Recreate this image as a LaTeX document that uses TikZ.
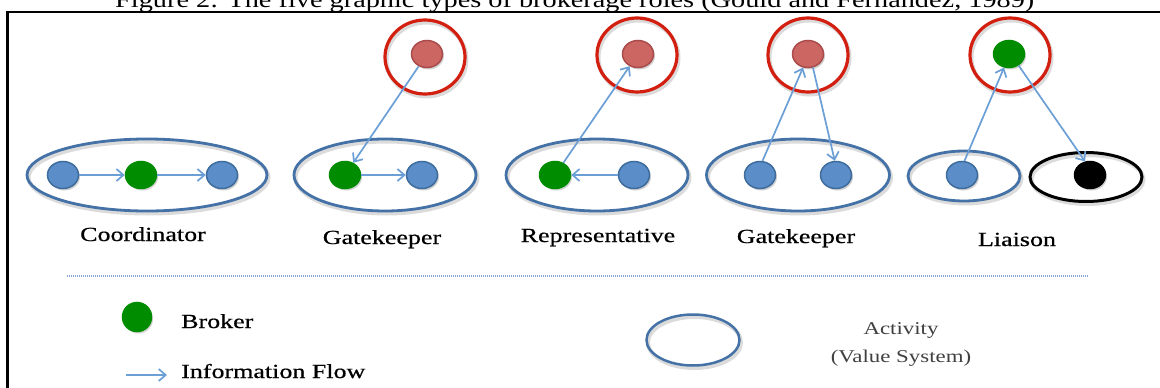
\documentclass[tikz,border=0pt]{standalone}
\usepackage{fontspec}
\setmainfont{Liberation Serif}
\newfontfamily\lblfont[FakeStretch=1.3,FakeBold=0.6]{Liberation Serif}
\newfontfamily\capfont[FakeStretch=1.23]{Liberation Serif}
\newfontfamily\actfont[FakeStretch=1.27]{Liberation Serif}
\usetikzlibrary{arrows.meta,shapes.geometric,shadows}
\definecolor{dotblue}{HTML}{5B8DC9}
\definecolor{dotblueb}{HTML}{3E6C9C}
\definecolor{ellblue}{HTML}{4472A6}
\definecolor{brgreen}{HTML}{008C00}
\definecolor{ringred}{HTML}{D21F10}
\definecolor{dotred}{HTML}{CC6662}
\definecolor{dotredb}{HTML}{A94B4A}
\definecolor{flow}{HTML}{6B9FD6}
\definecolor{sepblue}{HTML}{88A9D8}
\tikzset{
  oshd/.style={general shadow={draw=black, fill=none, line width=4pt, opacity=0.14, shadow xshift=1.5pt, shadow yshift=-2.5pt}},
  fshd/.style={general shadow={fill=black, draw=none, opacity=0.18, shadow xshift=1.5pt, shadow yshift=-2pt}},
  act/.style={ellipse, draw=ellblue, line width=2.8pt, inner sep=0pt, oshd},
  blk/.style={ellipse, draw=black, line width=3pt, inner sep=0pt, oshd},
  dot/.style={ellipse, minimum width=31pt, minimum height=27pt, inner sep=0pt, line width=1.5pt, fshd},
  bdot/.style={dot, fill=dotblue, draw=dotblueb},
  gdot/.style={dot, fill=brgreen, draw=brgreen},
  rdot/.style={dot, fill=dotred, draw=dotredb},
  kdot/.style={dot, fill=black, draw=black},
  ring/.style={ellipse, draw=ringred, line width=3.2pt, minimum width=80pt, minimum height=74pt, inner sep=0pt, oshd},
  flowarr/.style={draw=flow, line width=1.7pt, -{Straight Barb[length=7pt,width=12pt]}},
  lbl/.style={font=\lblfont\fontsize{20}{20}\selectfont, inner sep=0pt, anchor=base},
  lgl/.style={font=\lblfont\fontsize{20}{20}\selectfont, inner sep=0pt, anchor=base west},
  actlbl/.style={font=\actfont\fontsize{18}{18}\selectfont, text=black!75, inner sep=0pt, anchor=base},
}
\begin{document}
\begin{tikzpicture}[x=1pt,y=-1pt]
\useasboundingbox (0,0) rectangle (1160,388);
\clip (0,0) rectangle (1160,388);
\fill[white] (0,0) rectangle (1160,388);
% caption and frame
\node[anchor=base west, font=\capfont\fontsize{23}{23}\selectfont, inner sep=0pt] (cap) at (115,7) {Figure 2: The five graphic types of brokerage roles (Gould and Fernandez, 1989)};
\draw[line width=2.4pt] (7.3,12.2) rectangle (1175,400);

% Coordinator
\node[act, minimum width=240pt, minimum height=72pt] (e1) at (147,175) {};
\node[bdot] (c1) at (63,175) {};
\node[gdot] (c2) at (141,175) {};
\node[bdot] (c3) at (222,175) {};
\draw[flowarr] (c1) -- (c2);
\draw[flowarr] (c2) -- (c3);
\node[lbl] (t1) at (143,241) {Coordinator};

% Gatekeeper 1
\node[act, minimum width=182pt, minimum height=72pt] (e2) at (385,175) {};
\node[gdot] (g1) at (345,175) {};
\node[bdot] (g2) at (422,175) {};
\node[ring] (r1) at (425,57) {};
\node[rdot] (rd1) at (427,54) {};
\draw[flowarr] (rd1) -- (g1);
\draw[flowarr] (g1) -- (g2);
\node[lbl] (t2) at (382,244) {Gatekeeper};

% Representative
\node[act, minimum width=182pt, minimum height=72pt] (e3) at (597,175) {};
\node[gdot] (p1) at (555,175) {};
\node[bdot] (p2) at (634,175) {};
\node[ring] (r2) at (637,55) {};
\node[rdot] (rd2) at (638,54) {};
\draw[flowarr] (p2) -- (p1);
\draw[flowarr] (p1) -- (rd2);
\node[lbl] (t3) at (598,242) {Representative};

% Gatekeeper 2
\node[act, minimum width=183pt, minimum height=72pt] (e4) at (798,175) {};
\node[bdot] (k1) at (760,175) {};
\node[bdot] (k2) at (836,175) {};
\node[ring] (r3) at (808,55) {};
\node[rdot] (rd3) at (808,54) {};
\draw[flowarr] (k1.80) -- (rd3.250);
\draw[flowarr] (rd3.-70) -- (k2.95);
\node[lbl] (t4) at (796,243) {Gatekeeper};

% Liaison
\node[act, minimum width=112pt, minimum height=50pt] (e5) at (964,176) {};
\node[blk, minimum width=112pt, minimum height=49pt] (e6) at (1086,177) {};
\node[bdot] (l1) at (962,175) {};
\node[kdot] (l2) at (1090,175) {};
\node[ring] (r4) at (1010,55) {};
\node[gdot] (gd4) at (1009,54) {};
\draw[flowarr] (l1.80) -- (gd4.250);
\draw[flowarr] (gd4.-50) -- (l2.110);
\node[lbl] (t5) at (1017,246) {Liaison};

% separator
\coordinate (s1) at (67,276);
\coordinate (s2) at (1089,276);
\draw[sepblue, line width=1.2pt, dash pattern=on 1pt off 1pt] (s1) -- (s2);

% legend
\node[gdot, minimum width=29pt, minimum height=29pt] (lg) at (137,317) {};
\node[lgl] (lb) at (181,328) {Broker};
\coordinate (la1) at (126,375);
\coordinate (la2) at (167,375);
\draw[flowarr] (la1) -- (la2);
\node[lgl] (li) at (181,378) {Information Flow};
\node[act, line width=2.5pt, minimum width=93pt, minimum height=51pt] (le) at (693,340) {};
\node[actlbl] (a1) at (901,334) {Activity};
\node[actlbl] (a2) at (901,362) {(Value System)};
\end{tikzpicture}
\end{document}
